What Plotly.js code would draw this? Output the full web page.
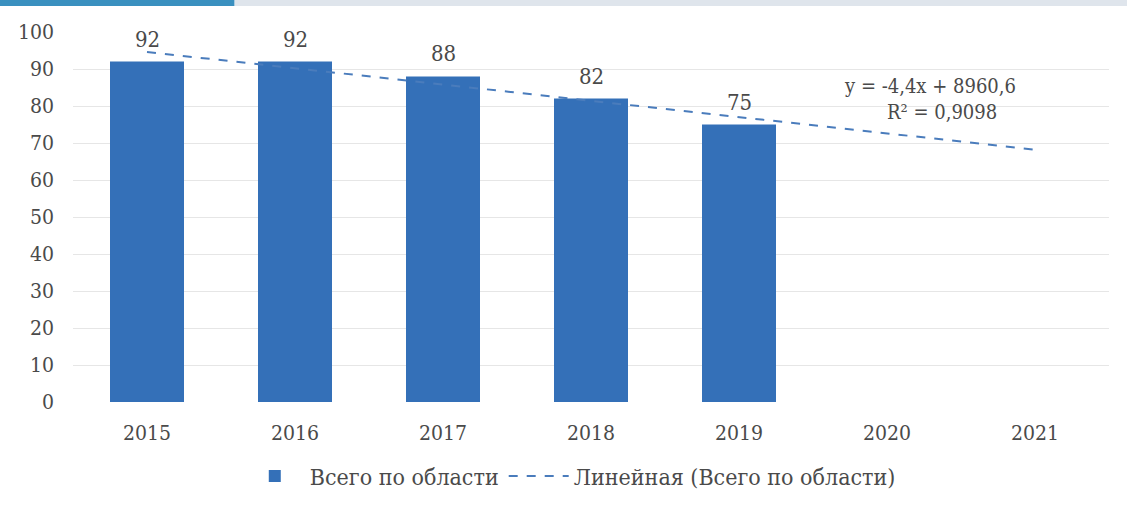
<!DOCTYPE html>
<html><head><meta charset="utf-8">
<script src="https://cdn.plot.ly/plotly-3.0.1.min.js"></script>
<style>html,body{margin:0;padding:0;background:#fff;}#chart{width:1127px;height:509px;}</style>
</head><body><div id="chart"></div>
<script>
const years = ['2015','2016','2017','2018','2019','2020','2021'];
const barYears = ['2015','2016','2017','2018','2019'];
const barValues = [92, 92, 88, 82, 75];
const trendValues = [94.6, 90.2, 85.8, 81.4, 77.0, 72.6, 68.2];
const barName = 'Всего по области';
const trendName = 'Линейная (Всего по области)';
const eqLine1 = 'y = -4,4x + 8960,6';
const eqLine2 = 'R² = 0,9098';

const font = "DejaVu Serif Condensed";
const txt = '#4a4a4a';
const traces = [
  {type:'bar', x: barYears, y: barValues, name: barName,
   marker:{color:'#3470b8'}, width:0.5},
  {type:'scatter', mode:'lines', x: years, y: trendValues, name: trendName,
   line:{color:'#4a7cbc', width:2, dash:'dash'}}
];
const labelAnns = barYears.map((c, i) => ({xref:'x', yref:'y', x:years.indexOf(c), y:barValues[i], yanchor:'bottom', yshift:8,
  text:String(barValues[i]), showarrow:false, font:{family:font, size:22, color:txt}}));
const layout = {
  width:1127, height:509,
  margin:{l:73, r:18, t:32, b:104},
  paper_bgcolor:'#fff', plot_bgcolor:'#fff',
  font:{family:font, size:21, color:txt},
  showlegend:true,
  legend:{orientation:'h', x:0.48, xanchor:'center', y:-0.2, yanchor:'middle',
          font:{family:font, size:23, color:txt}, traceorder:'normal', itemwidth:60},
  xaxis:{type:'category', categoryorder:'array', categoryarray: years, range:[-0.5, 6.5],
         showgrid:false, zeroline:false, showline:false, ticks:'', ticklabelstandoff:16,
         tickfont:{family:font, size:21, color:txt}},
  yaxis:{range:[0,100], dtick:10, gridcolor:'#e6e6e6', zeroline:false, showline:false,
         ticks:'', ticklabelstandoff:18, tickfont:{family:font, size:21, color:txt}},
  annotations:[
    {xref:'x', yref:'y', x:5.29, y:85.5, text: eqLine1, showarrow:false,
     font:{family:font, size:20, color:txt}},
    {xref:'x', yref:'y', x:5.37, y:78.3, text: eqLine2, showarrow:false,
     font:{family:font, size:20, color:txt}}
  ].concat(labelAnns),
  shapes:[
    {type:'rect', xref:'paper', yref:'paper', x0:-0.08, x1:0.156, y0:1.070, y1:1.09, fillcolor:'#3a90bf', line:{width:0}, layer:'above'},
    {type:'rect', xref:'paper', yref:'paper', x0:0.156, x1:1.02, y0:1.070, y1:1.09, fillcolor:'#dfe5ec', line:{width:0}, layer:'above'}
  ]
};
Plotly.newPlot('chart', traces, layout, {displayModeBar:false, staticPlot:true});
</script></body></html>
